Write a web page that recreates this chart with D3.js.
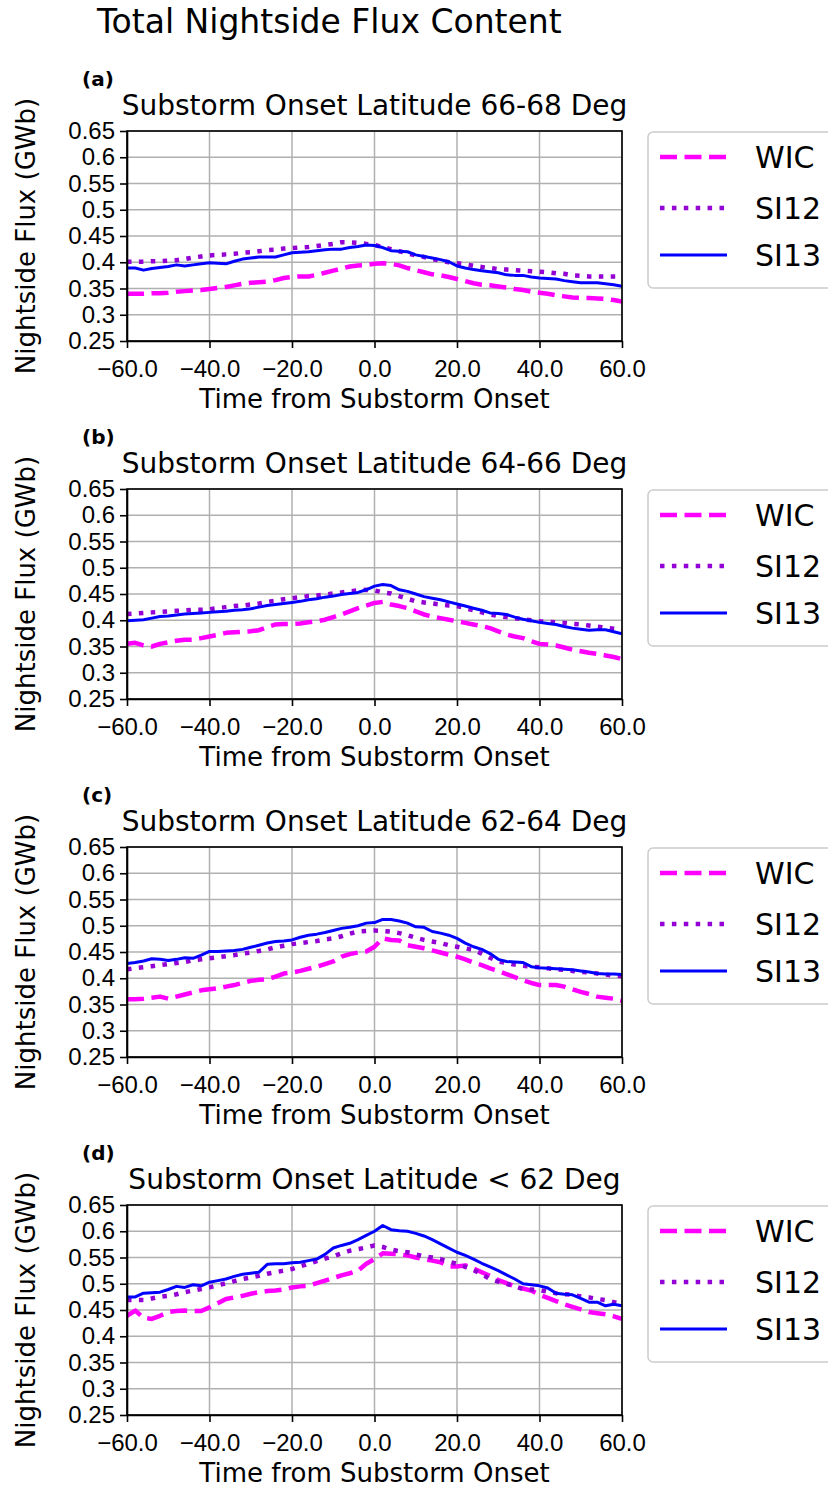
<!DOCTYPE html>
<html lang="en">
<head>
<meta charset="UTF-8">
<title>Total Nightside Flux Content</title>
<script src="https://d3js.org/d3.v7.min.js"></script>
<style>
  body { margin: 0; background: #fff; }
  svg { font-family: "DejaVu Sans", sans-serif; }
  .grid line { stroke: #b0b0b0; stroke-width: 1.5; }
  .axis path, .axis line { stroke: #000; stroke-width: 1.6; }
  .axis text { font-size: 24px; fill: #000; }
</style>
</head>
<body>
<script>
// minutes from substorm onset (2-minute steps)
const time = d3.range(-60, 61, 2);

const panelLabels = ["(a)", "(b)", "(c)", "(d)"];
const panelTitles = [
  "Substorm Onset Latitude 66-68 Deg",
  "Substorm Onset Latitude 64-66 Deg",
  "Substorm Onset Latitude 62-64 Deg",
  "Substorm Onset Latitude < 62 Deg"
];
const seriesNames = ["WIC", "SI12", "SI13"];
const yTicks = [0.25, 0.3, 0.35, 0.4, 0.45, 0.5, 0.55, 0.6, 0.65];
const xTicks = [-60, -40, -20, 0, 20, 40, 60];

// panel (a) 66-68 deg
const wicA = [.340,.340,.340,.341,.341,.342,.344,.345,.346,.347,.349,.351,.353,.356,.359,.361,.362,.363,.366,.370,.372,.373,.373,.376,.380,.384,.388,.392,.394,.395,.397,.398,.397,.394,.389,.385,.381,.377,.375,.372,.368,.364,.360,.357,.356,.354,.352,.349,.347,.344,.342,.340,.337,.335,.333,.332,.332,.331,.330,.328,.325];
const si12A = [.401,.401,.401,.402,.402,.403,.404,.406,.409,.411,.413,.414,.415,.416,.418,.419,.421,.423,.424,.426,.427,.428,.429,.431,.433,.435,.438,.438,.437,.435,.433,.429,.425,.421,.417,.413,.410,.406,.403,.400,.398,.396,.393,.391,.389,.387,.386,.385,.384,.383,.382,.381,.379,.378,.375,.374,.373,.373,.373,.373,.373];
const si13A = [.389,.389,.385,.388,.390,.392,.395,.393,.395,.397,.399,.398,.397,.402,.406,.408,.410,.410,.410,.414,.418,.419,.420,.422,.424,.425,.425,.428,.430,.433,.432,.428,.422,.421,.420,.414,.411,.408,.405,.401,.393,.389,.386,.384,.382,.380,.376,.375,.375,.372,.370,.369,.368,.365,.363,.361,.361,.361,.359,.357,.354];

// panel (b) 64-66 deg
const wicB = [.355,.357,.352,.350,.355,.358,.361,.363,.363,.366,.369,.372,.376,.377,.378,.379,.381,.387,.392,.393,.393,.394,.396,.398,.401,.406,.411,.417,.423,.428,.433,.435,.430,.427,.423,.417,.411,.407,.404,.401,.398,.395,.392,.389,.385,.379,.373,.369,.366,.360,.355,.354,.352,.348,.344,.341,.338,.336,.333,.330,.326];
const si12B = [.412,.413,.414,.415,.416,.417,.418,.419,.420,.420,.421,.423,.425,.427,.428,.430,.432,.435,.437,.440,.442,.444,.446,.447,.449,.451,.453,.455,.457,.458,.457,.453,.451,.446,.441,.436,.434,.432,.430,.428,.427,.423,.419,.415,.411,.408,.406,.404,.402,.400,.398,.397,.396,.395,.393,.392,.390,.388,.386,.384,.382];
const si13B = [.399,.400,.401,.404,.407,.408,.410,.412,.413,.414,.415,.416,.417,.419,.420,.422,.425,.428,.430,.432,.434,.436,.439,.441,.444,.446,.449,.451,.453,.458,.465,.468,.466,.458,.455,.450,.445,.442,.439,.435,.431,.427,.423,.419,.414,.413,.411,.406,.402,.399,.396,.394,.392,.388,.385,.383,.381,.382,.382,.378,.374];

// panel (c) 62-64 deg
const wicC = [.360,.360,.361,.363,.365,.361,.365,.369,.373,.377,.379,.381,.384,.387,.391,.395,.397,.398,.403,.409,.411,.414,.418,.422,.427,.432,.441,.446,.449,.451,.460,.476,.473,.472,.463,.460,.457,.453,.449,.445,.441,.436,.430,.425,.419,.414,.408,.402,.396,.391,.387,.387,.387,.384,.379,.374,.370,.365,.363,.361,.357];
const si12C = [.417,.419,.421,.423,.425,.427,.429,.431,.434,.436,.438,.440,.442,.444,.447,.449,.452,.455,.459,.462,.465,.467,.469,.471,.474,.476,.480,.485,.489,.490,.491,.490,.489,.486,.482,.477,.473,.470,.467,.463,.460,.457,.454,.447,.439,.432,.429,.426,.424,.422,.421,.419,.417,.416,.414,.412,.411,.409,.407,.405,.404];
const si13C = [.428,.430,.433,.437,.436,.434,.436,.439,.438,.444,.451,.451,.452,.453,.455,.459,.463,.467,.470,.471,.473,.478,.482,.484,.487,.491,.495,.497,.500,.505,.506,.512,.512,.509,.505,.498,.497,.489,.486,.482,.476,.467,.460,.455,.447,.436,.432,.431,.430,.422,.420,.419,.418,.417,.416,.414,.412,.409,.408,.408,.407];

// panel (d) < 62 deg
const wicD = [.439,.449,.435,.433,.439,.446,.448,.449,.448,.448,.455,.463,.471,.474,.477,.481,.484,.486,.487,.489,.493,.495,.496,.501,.506,.511,.516,.520,.525,.538,.547,.558,.557,.556,.554,.550,.547,.544,.541,.533,.533,.535,.529,.522,.515,.507,.501,.495,.491,.487,.479,.473,.467,.461,.456,.451,.446,.444,.442,.438,.433];
const si12D = [.469,.469,.469,.472,.475,.477,.480,.484,.487,.490,.493,.497,.501,.505,.509,.512,.515,.519,.522,.525,.528,.533,.538,.543,.548,.552,.558,.563,.566,.569,.573,.570,.565,.562,.560,.556,.552,.550,.547,.542,.538,.532,.526,.518,.509,.504,.500,.495,.490,.489,.488,.485,.482,.480,.479,.476,.474,.471,.469,.465,.461];
const si13D = [.475,.475,.482,.483,.484,.489,.495,.493,.498,.496,.503,.506,.509,.514,.518,.520,.522,.537,.538,.538,.540,.541,.544,.547,.556,.568,.573,.577,.584,.592,.600,.611,.603,.601,.600,.596,.591,.584,.576,.568,.560,.554,.547,.539,.532,.525,.517,.509,.500,.498,.496,.492,.482,.480,.479,.472,.465,.465,.458,.461,.458];

const panels = [
  [wicA, si12A, si13A],
  [wicB, si12B, si13B],
  [wicC, si12C, si13C],
  [wicD, si12D, si13D]
];

const styles = [
  { color: "#ff00ff", width: 4.5, dash: "17,7.5" },
  { color: "#9400d3", width: 4.5, dash: "4.5,7.4" },
  { color: "#0000ff", width: 3, dash: null }
];

const W = 828, H = 1489;
const left = 127, right = 622, plotH = 210;
const tops = [131, 489, 847, 1205];

const svg = d3.select("body").append("svg")
  .attr("width", W)
  .attr("height", H);

svg.append("text")
  .attr("x", 97)
  .attr("y", 33)
  .attr("font-size", 33)
  .text("Total Nightside Flux Content");

const x = d3.scaleLinear().domain([-60, 60]).range([left, right]);

panels.forEach((series, p) => {
  const top = tops[p];
  const y = d3.scaleLinear().domain([0.25, 0.65]).range([top + plotH, top]);
  const g = svg.append("g");

  // grid
  const grid = g.append("g").attr("class", "grid");
  grid.selectAll(".gx").data(xTicks).enter().append("line")
    .attr("x1", d => x(d)).attr("x2", d => x(d))
    .attr("y1", top).attr("y2", top + plotH);
  grid.selectAll(".gy").data(yTicks).enter().append("line")
    .attr("x1", left).attr("x2", right)
    .attr("y1", d => y(d)).attr("y2", d => y(d));

  // lines, clipped to the plot box
  const clipId = "clip" + p;
  svg.append("clipPath").attr("id", clipId).append("rect")
    .attr("x", left).attr("y", top).attr("width", right - left).attr("height", plotH);

  const line = d3.line().x((d, i) => x(time[i])).y(d => y(d));
  series.forEach((vals, s) => {
    g.append("path")
      .datum(vals)
      .attr("clip-path", `url(#${clipId})`)
      .attr("fill", "none")
      .attr("stroke", styles[s].color)
      .attr("stroke-width", styles[s].width)
      .attr("stroke-dasharray", styles[s].dash)
      .attr("stroke-linejoin", "round")
      .attr("d", line);
  });

  // axes
  g.append("g")
    .attr("class", "axis")
    .attr("transform", `translate(0,${top + plotH})`)
    .call(d3.axisBottom(x).tickValues(xTicks).tickFormat(d3.format(".1f")).tickSize(7).tickSizeOuter(0).tickPadding(6))
    .selectAll("text").attr("dy", "0.95em");

  g.append("g")
    .attr("class", "axis")
    .attr("transform", `translate(${left},0)`)
    .call(d3.axisLeft(y).tickValues(yTicks).tickFormat(d => String(+d.toFixed(2))).tickSize(7).tickSizeOuter(0).tickPadding(5));

  // frame
  g.append("rect")
    .attr("x", left).attr("y", top)
    .attr("width", right - left).attr("height", plotH)
    .attr("fill", "none").attr("stroke", "#000").attr("stroke-width", 1.6);

  // labels
  g.append("text")
    .attr("x", 82).attr("y", top - 45)
    .attr("font-size", 20).attr("font-weight", "bold")
    .text(panelLabels[p]);

  g.append("text")
    .attr("x", (left + right) / 2).attr("y", top - 16)
    .attr("text-anchor", "middle").attr("font-size", 28)
    .text(panelTitles[p]);

  g.append("text")
    .attr("x", (left + right) / 2).attr("y", top + plotH + 67)
    .attr("text-anchor", "middle").attr("font-size", 26)
    .text("Time from Substorm Onset");

  g.append("text")
    .attr("transform", `translate(35,${top + plotH / 2}) rotate(-90)`)
    .attr("text-anchor", "middle").attr("font-size", 26)
    .text("Nightside Flux (GWb)");

  // legend
  const lg = g.append("g").attr("transform", `translate(648,${top + 1})`);
  lg.append("rect")
    .attr("width", 200).attr("height", 156).attr("rx", 5)
    .attr("fill", "#fff").attr("stroke", "#cccccc").attr("stroke-width", 1.5);
  seriesNames.forEach((name, s) => {
    const ly = [25, 76, 123][s];
    lg.append("line")
      .attr("x1", 12).attr("x2", 79).attr("y1", ly).attr("y2", ly)
      .attr("stroke", styles[s].color)
      .attr("stroke-width", styles[s].width)
      .attr("stroke-dasharray", styles[s].dash);
    lg.append("text")
      .attr("x", 107).attr("y", ly + 11)
      .attr("font-size", 30)
      .text(name);
  });
});
</script>
</body>
</html>
